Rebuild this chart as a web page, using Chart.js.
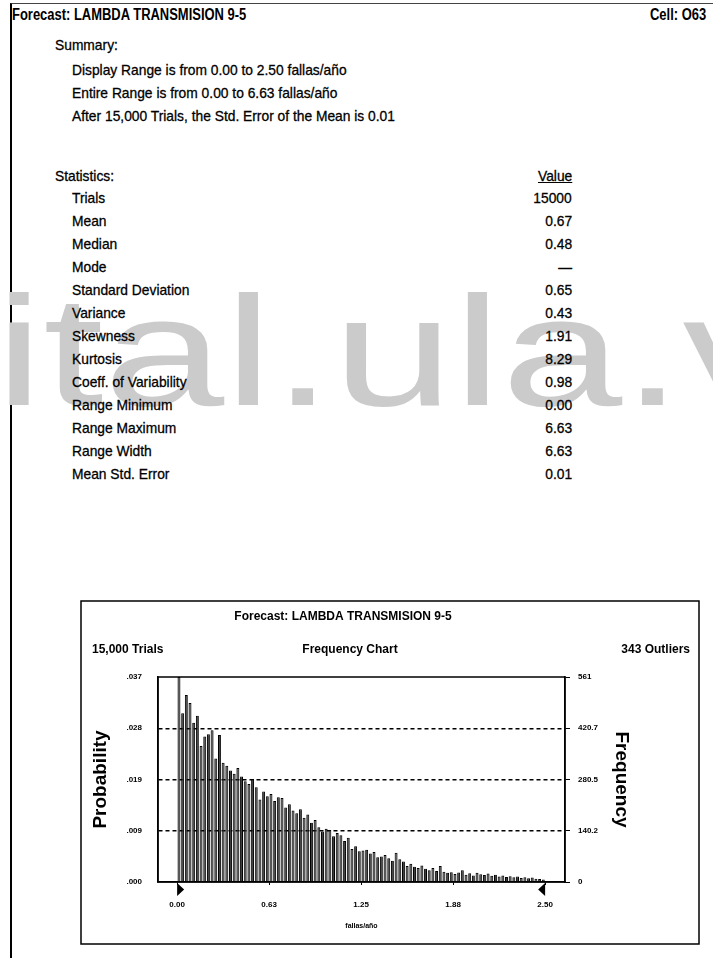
<!DOCTYPE html>
<html>
<head>
<meta charset="utf-8">
<script src="https://cdn.jsdelivr.net/npm/chart.js@4.4.0/dist/chart.umd.min.js"></script>
<style>
  body { margin: 0; width: 713px; height: 958px; background: #fff; position: relative; overflow: hidden;
         font-family: 'Liberation Sans', Arial, sans-serif; color: #000; }
  .page { position: absolute; left: 10px; top: 3px; width: 720px; height: 970px;
          border-left: 2px solid #000; border-top: 1px solid #444; }
  .mark { position: absolute; left: -5px; top: 274px; font-size: 155px; line-height: 155px;
          color: #cbcbcb; white-space: nowrap; transform-origin: 0 0; transform: scaleX(1.4); z-index: 0; }
  .t { position: absolute; white-space: nowrap; font-size: 15px; line-height: 18px; z-index: 1;
       -webkit-text-stroke: 0.3px #000; transform: scaleX(0.92); transform-origin: left center; }
  .r { text-align: right; transform-origin: right center; }
  .hd { font-size: 16px; font-weight: bold; -webkit-text-stroke: 0; transform: scaleX(0.81); }
  #chartBox { position: absolute; left: 80px; top: 600px; z-index: 2; }
</style>
</head>
<body>
<div class="page"></div>
<div class="mark">ital.ula.ve</div>
<div class="t hd" style="left:12px; top:6px;">Forecast: LAMBDA TRANSMISION 9-5</div>
<div class="t hd" style="left:650px; top:6px;">Cell: O63</div>
<div class="t" style="left:55px; top:36px;">Summary:</div>
<div id="summary"></div>
<div class="t" style="left:55px; top:167px;">Statistics:</div>
<div class="t r" style="right:141px; top:167px; text-decoration:underline;">Value</div>
<div id="stats"></div>
<canvas id="chartBox" width="620" height="345"></canvas>

<script>
// report text
var summaryLines = [
    'Display Range is from 0.00 to 2.50 fallas/año',
    'Entire Range is from 0.00 to 6.63 fallas/año',
    'After 15,000 Trials, the Std. Error of the Mean is 0.01'
];
var statNames = ['Trials', 'Mean', 'Median', 'Mode', 'Standard Deviation', 'Variance', 'Skewness',
    'Kurtosis', 'Coeff. of Variability', 'Range Minimum', 'Range Maximum', 'Range Width', 'Mean Std. Error'];
var statValues = ['15000', '0.67', '0.48', '\u2014', '0.65', '0.43', '1.91',
    '8.29', '0.98', '0.00', '6.63', '6.63', '0.01'];

// histogram: 100 cells of 0.025 between 0.00 and 2.50
var trials = 15000;
var outliers = 343;
var cellWidth = 0.025;
var freqMax = 561;
var frequency = [
    561, 462, 512, 490, 436, 455, 372, 398, 404, 415,
    338, 402, 326, 318, 305, 296, 312, 289, 276, 268,
    282, 259, 226, 248, 235, 241, 222, 232, 230, 204,
    213, 196, 188, 199, 176, 185, 162, 170, 150, 138,
    146, 142, 125, 134, 128, 112, 121, 90, 98, 84,
    86, 88, 78, 82, 68, 70, 74, 65, 58, 80,
    62, 56, 44, 50, 42, 38, 45, 36, 32, 38,
    30, 44, 28, 25, 27, 22, 26, 32, 20, 24,
    18, 25, 21, 19, 23, 17, 20, 15, 18, 14,
    16, 13, 15, 11, 13, 10, 12, 9, 8, 7
];
var xTickValues = [0, 0.625, 1.25, 1.875, 2.5];
var xTickLabels = ['0.00', '0.63', '1.25', '1.88', '2.50'];
var freqTickLabels = ['0', '140.2', '280.5', '420.7', '561'];
var probTickLabels = ['.000', '.009', '.019', '.028', '.037'];

var summaryHtml = '';
summaryLines.forEach(function(s, i){
    summaryHtml += '<div class="t" style="left:72px; top:' + (61 + i * 23) + 'px;">' + s + '</div>';
});
document.getElementById('summary').innerHTML = summaryHtml;

var statsHtml = '';
statNames.forEach(function(s, i){
    var top = 189 + i * 23;
    statsHtml += '<div class="t" style="left:72px; top:' + top + 'px;">' + s + '</div>';
    statsHtml += '<div class="t r" style="right:141px; top:' + top + 'px;">' + statValues[i] + '</div>';
});
document.getElementById('stats').innerHTML = statsHtml;

var cells = frequency.map(function(f, i){
    return {x: (i + 0.5) * cellWidth, y: f};
});

function quarterTicks(max){
    return function(scale){
        scale.ticks = [0, 1, 2, 3, 4].map(function(k){ return {value: max * k / 4}; });
    };
}

// box, plot frame, header texts and the range grabbers
var frameDecor = {
    id: 'frameDecor',
    afterDraw: function(chart){
        var c = chart.ctx, a = chart.chartArea;
        c.save();
        c.strokeStyle = '#000';
        c.lineWidth = 1.5;
        c.strokeRect(1, 1, chart.width - 2, chart.height - 2);
        c.strokeRect(a.left, a.top, a.right - a.left, a.bottom - a.top);

        c.fillStyle = '#000';
        c.textBaseline = 'middle';
        c.font = 'bold 12px "Liberation Sans", Arial, sans-serif';
        c.textAlign = 'center';
        c.fillText('Forecast: LAMBDA TRANSMISION 9-5', 263, 17);
        c.fillText('Frequency Chart', 270, 50);
        c.textAlign = 'left';
        c.fillText('15,000 Trials', 12, 50);
        c.textAlign = 'right';
        c.fillText(outliers + ' Outliers', 610, 50);

        var xs = chart.scales.x;
        var x0 = xs.getPixelForValue(xTickValues[0]);
        var x1 = xs.getPixelForValue(xTickValues[xTickValues.length - 1]);
        var yb = a.bottom + 1;
        c.beginPath();
        c.moveTo(x0, yb); c.lineTo(x0, yb + 13); c.lineTo(x0 + 7, yb + 6.5); c.closePath();
        c.moveTo(x1, yb); c.lineTo(x1, yb + 13); c.lineTo(x1 - 7, yb + 6.5); c.closePath();
        c.fill();
        c.restore();
    }
};

var tickFont = {family: '"Liberation Sans", Arial, sans-serif', size: 8, weight: 'bold'};
var titleFont = {family: '"Liberation Sans", Arial, sans-serif', size: 19, weight: 'bold'};

var freqChart = new Chart(document.getElementById('chartBox'), {
    type: 'bar',
    data: {
        datasets: [{
            data: cells,
            yAxisID: 'freq',
            backgroundColor: '#333333',
            borderColor: '#000',
            borderWidth: {left: 1, right: 1, top: 1, bottom: 0},
            barPercentage: 0.8,
            categoryPercentage: 1
        }]
    },
    options: {
        responsive: false,
        animation: false,
        layout: {padding: {left: 9, right: 67, top: 77, bottom: 15}},
        plugins: {legend: {display: false}, tooltip: {enabled: false}},
        scales: {
            x: {
                type: 'linear',
                offset: false,
                min: -0.13,
                max: 2.635,
                afterBuildTicks: function(scale){
                    scale.ticks = xTickValues.map(function(v){ return {value: v}; });
                },
                afterFit: function(scale){ scale.height = 48; },
                ticks: {
                    callback: function(v, i){ return xTickLabels[i]; },
                    font: tickFont, color: '#000', padding: 15, maxRotation: 0, autoSkip: false
                },
                grid: {drawOnChartArea: false, offset: false, tickLength: 3, color: '#000', lineWidth: 1},
                border: {color: '#000', width: 1.5},
                title: {display: true, text: 'fallas/año', font: {family: tickFont.family, size: 7, weight: 'bold'}, color: '#000', padding: 0}
            },
            prob: {
                type: 'linear',
                position: 'left',
                min: 0,
                max: freqMax / trials,
                afterBuildTicks: quarterTicks(freqMax / trials),
                afterFit: function(scale){ scale.width = 69; },
                ticks: {
                    callback: function(v, i){ return probTickLabels[i]; },
                    font: tickFont, color: '#000', padding: 16
                },
                grid: {
                    drawTicks: false,
                    lineWidth: 1.5,
                    color: function(ctx){
                        return (ctx.index === 0 || ctx.index === 4) ? 'rgba(0,0,0,0)' : '#000';
                    }
                },
                border: {color: '#000', width: 1.5, dash: [4, 3]},
                title: {display: true, text: 'Probability', font: titleFont, color: '#000', padding: 0}
            },
            freq: {
                type: 'linear',
                position: 'right',
                min: 0,
                max: freqMax,
                afterBuildTicks: quarterTicks(freqMax),
                afterFit: function(scale){ scale.width = 68; },
                ticks: {
                    callback: function(v, i){ return freqTickLabels[i]; },
                    font: tickFont, color: '#000', padding: 8
                },
                grid: {drawOnChartArea: false, tickLength: 5, color: '#000', lineWidth: 1},
                border: {color: '#000', width: 1.5},
                title: {display: true, text: 'Frequency', font: titleFont, color: '#000', padding: 0}
            }
        }
    },
    plugins: [frameDecor]
});
</script>
</body>
</html>
